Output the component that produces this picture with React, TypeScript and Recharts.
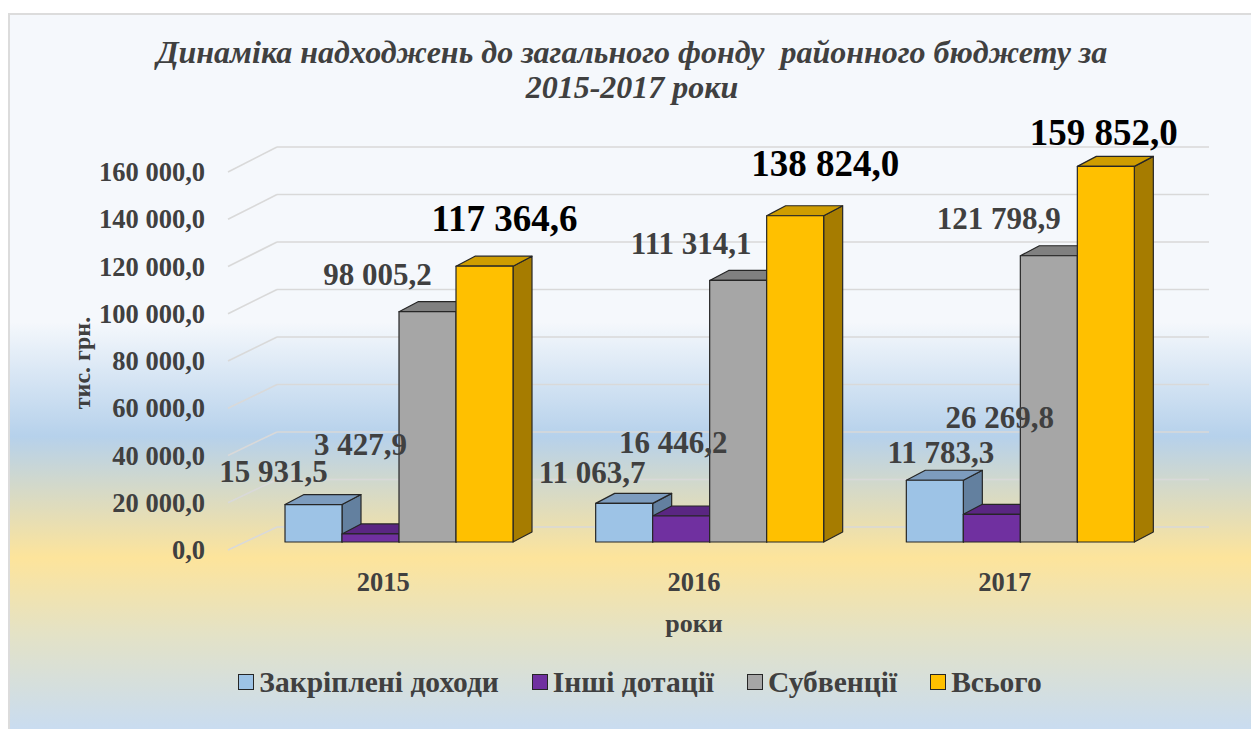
import { BarChart, Bar, XAxis, YAxis, CartesianGrid, Legend, LabelList } from 'recharts';

const YEARS = ['2015', '2016', '2017'];
const ZAKRIPLENI = [15931.5, 16446.2, 26269.8];
const INSHI = [3427.9, 11063.7, 11783.3];
const SUBVENTSII = [98005.2, 111314.1, 121798.9];
const VSOGO = [117364.6, 138824.0, 159852.0];
const Y_TICKS = [0, 20000, 40000, 60000, 80000, 100000, 120000, 140000, 160000];

// label texts as printed on the source chart
const ZAKR_LABELS = ['15 931,5', '11 063,7', '11 783,3'];
const INSHI_LABELS = ['3 427,9', '16 446,2', '26 269,8'];

const W = 1243;
const H = 716;
const FONT = 'Liberation Serif';
const DX = 19;
const DY = 10;

const fmt = (v: number) => {
  const [i, d] = v.toFixed(1).split('.');
  return i.replace(/\B(?=(\d{3})+(?!\d))/g, ' ') + ',' + d;
};

const data = YEARS.map((year, i) => ({
  year,
  zakr: ZAKRIPLENI[i],
  inshi: INSHI[i],
  subv: SUBVENTSII[i],
  total: VSOGO[i],
}));

const SERIES = [
  { key: 'zakr', name: 'Закріплені доходи', front: '#9dc3e6', top: '#7d9cbe', side: '#63809f' },
  { key: 'inshi', name: 'Інші дотації', front: '#7030a0', top: '#5a2682', side: '#4b1f6c' },
  { key: 'subv', name: 'Субвенції', front: '#a6a6a6', top: '#808080', side: '#6b6b6b' },
  { key: 'total', name: 'Всього', front: '#ffc000', top: '#cf9d00', side: '#a67c00' },
];

const box = (s: any) => (p: any) => {
  const { x, y, width: w, height: h } = p;
  if (w == null || h == null) return <g />;
  const st = { stroke: '#262626', strokeWidth: 1.2, strokeLinejoin: 'round' as const };
  return (
    <g>
      <polygon points={`${x + w},${y} ${x + w + DX},${y - DY} ${x + w + DX},${y + h - DY} ${x + w},${y + h}`} fill={s.side} {...st} />
      <polygon points={`${x},${y} ${x + DX},${y - DY} ${x + w + DX},${y - DY} ${x + w},${y}`} fill={s.top} {...st} />
      <rect x={x} y={y} width={w} height={h} fill={s.front} {...st} />
    </g>
  );
};

const label = (texts: string[], dxs: number[], dys: number[], size: number, color: string) => (p: any) => {
  const { x, y, width, index } = p;
  return (
    <text x={x + width / 2 + dxs[index]} y={y + dys[index]} textAnchor="middle" dominantBaseline="central"
      style={{ fontFamily: FONT, fontWeight: 700, fontSize: size }} fill={color}>
      {texts[index]}
    </text>
  );
};

const gridLine = (p: any) => {
  const { x1, y1, y2, key } = p;
  const y = y1 ?? y2;
  const depth = (529 - y) / 376;
  const yf = y + 8 - depth * 2;
  const yb = y - 15 - depth * 4;
  return (
    <g key={key}>
      <line x1={x1 - 16} y1={yf} x2={x1 + 33} y2={yb} stroke="#d9d9d9" strokeWidth={1.6} />
      <line x1={x1 + 33} y1={yb} x2={x1 + 965} y2={yb} stroke="#d9d9d9" strokeWidth={1.6} />
    </g>
  );
};

const YTick = (p: any) => {
  const { x, y, payload } = p;
  const depth = (529 - y) / 376;
  return (
    <text x={x} y={y + 8 - depth * 2} textAnchor="end" dominantBaseline="central"
      style={{ fontFamily: FONT, fontWeight: 700, fontSize: 26.5 }} fill="#404040">
      {fmt(payload.value)}
    </text>
  );
};

const XTick = (p: any) => {
  const { x, y, payload } = p;
  return (
    <text x={x - 16} y={y} textAnchor="middle" style={{ fontFamily: FONT, fontWeight: 700, fontSize: 26.5 }} fill="#404040">
      {payload.value}
    </text>
  );
};

const LegendBox = () => (
  <div style={{ display: 'flex', justifyContent: 'center', paddingLeft: 54, fontFamily: FONT, fontWeight: 700, fontSize: 29.5, lineHeight: '34px', color: '#404040' }}>
    {SERIES.map((s) => (
      <div key={s.key} style={{ display: 'flex', alignItems: 'center', marginRight: 33 }}>
        <span style={{ display: 'inline-block', width: 14, height: 14, background: s.front, border: '1.5px solid #262626', marginRight: 5 }} />
        <span>{s.name}</span>
      </div>
    ))}
  </div>
);

const titleStyle = { fontFamily: FONT, fontWeight: 700, fontStyle: 'italic', fontSize: 32 };
const axisTitleStyle = { fontFamily: FONT, fontWeight: 700, fontSize: 26 };

export default function App() {
  return (
    <div style={{
      position: 'fixed', left: 8, top: 13, width: W, height: H, overflow: 'hidden',
      background: 'linear-gradient(180deg, #f5f8fc 0%, #f5f8fc 43%, #b6d1eb 59%, #fde49b 76%, #e3e2c7 87%, #c9dcf0 100%)',
      borderTop: '2px solid #dcdcdc', borderLeft: '2px solid #dcdcdc', boxSizing: 'border-box',
    }}>
      <div style={{ position: 'absolute', left: -2, top: -2 }}>
        <BarChart width={W} height={H} data={data} margin={{ top: 153, right: 75, bottom: 147, left: 0 }}
          barGap={0} barCategoryGap={41}>
          <CartesianGrid vertical={false} horizontal={gridLine} />
          <XAxis dataKey="year" axisLine={false} tickLine={false} tickSize={0} tickMargin={49} height={40} tick={<XTick />} />
          <YAxis domain={[0, 160000]} ticks={Y_TICKS} axisLine={false} tickLine={false} tickSize={0} tickMargin={39}
            width={236} tick={<YTick />} />
          <Legend layout="horizontal" verticalAlign="middle" align="center" content={<LegendBox />}
            wrapperStyle={{ top: 652, left: 0, width: W }} />
          {SERIES.map((s) => (
            <Bar key={s.key} dataKey={s.key} name={s.name} fill={s.front} shape={box(s)} isAnimationActive={false}>
              {s.key === 'zakr' && <LabelList dataKey="zakr" content={label(ZAKR_LABELS, [-40, -32, 6], [-33, -31, -28], 31, '#404040')} />}
              {s.key === 'inshi' && <LabelList dataKey="inshi" content={label(INSHI_LABELS, [-10, -8, 8], [-89, -74, -97], 31, '#404040')} />}
              {s.key === 'subv' && <LabelList dataKey="subv" content={label(SUBVENTSII.map(fmt), [-50, -47, -50], [-37, -37, -37], 31, '#404040')} />}
              {s.key === 'total' && <LabelList dataKey="total" content={label(VSOGO.map(fmt), [20, 30, -2], [-48, -52, -34], 37, '#000000')} />}
            </Bar>
          ))}
          <text x={624} y={50} textAnchor="middle" style={titleStyle} fill="#404040">
            Динаміка надходжень до загального фонду {'\u00a0'}районного бюджету за
          </text>
          <text x={624} y={85} textAnchor="middle" style={titleStyle} fill="#404040">
            2015-2017 роки
          </text>
          <text x={686} y={619} textAnchor="middle" style={axisTitleStyle} fill="#404040">роки</text>
          <text x={82} y={350} textAnchor="middle" transform="rotate(-90, 82, 350)" style={{ ...axisTitleStyle, fontSize: 24 }} fill="#404040">тис. грн.</text>
        </BarChart>
      </div>
    </div>
  );
}
